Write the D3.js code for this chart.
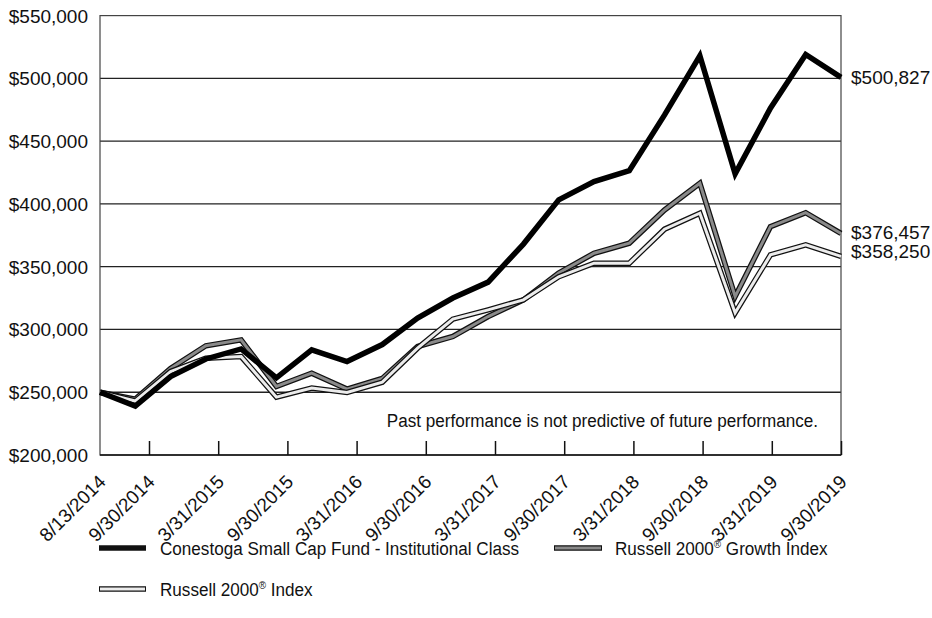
<!DOCTYPE html>
<html>
<head>
<meta charset="utf-8">
<script src="https://cdn.jsdelivr.net/npm/d3@7"></script>
<style>
body { margin: 0; background: #fff; }
</style>
</head>
<body>
<div id="chart"></div>
<script>
var dates = ["8/13/2014","9/30/2014","12/31/2014","3/31/2015","6/30/2015","9/30/2015","12/31/2015","3/31/2016",
    "6/30/2016","9/30/2016","12/31/2016","3/31/2017","6/30/2017","9/30/2017","12/31/2017","3/31/2018",
    "6/30/2018","9/30/2018","12/31/2018","3/31/2019","6/30/2019","9/30/2019"];
var conestoga = [250000, 239000, 262500, 276500, 284500, 261500, 283800, 274400, 288000, 309000, 325000,
    337700, 368000, 403200, 417800, 426500, 470900, 518000, 424000, 476200, 519000, 500827];
var growth = [250000, 244500, 269000, 287000, 291700, 254600, 265200, 252500, 261000, 286400, 294400,
    310300, 323600, 345000, 360700, 368700, 395200, 416500, 326200, 381900, 393000, 376457];
var russell = [250000, 243000, 266500, 277100, 278400, 246100, 253300, 249800, 258000, 285100, 308200,
    315600, 323600, 342000, 352800, 352800, 379900, 392600, 313200, 359400, 367400, 358250];
var tickLabels = ["9/30/2014","3/31/2015","9/30/2015","3/31/2016","9/30/2016","3/31/2017",
    "9/30/2017","3/31/2018","9/30/2018","3/31/2019","9/30/2019"];
var yTicks = [200000, 250000, 300000, 350000, 400000, 450000, 500000, 550000];
var endLabels = ["$500,827", "$376,457", "$358,250"];

var W = 932, H = 618;
var plot = {left: 100, right: 841, top: 15.6, bottom: 455};
var FONT = "'Liberation Sans', Arial, sans-serif";
var NARROW = 0.9; // no condensed font installed, squeeze Liberation Sans instead
var LINE_W = 5.5;
var INNER_W = 3;

var svg = d3.select("#chart").append("svg")
    .attr("width", W)
    .attr("height", H);

var x = d3.scalePoint().domain(dates).range([plot.left, plot.right]);
// the tick marks don't line up with the points in the original, keep them separate
var xt = d3.scalePoint().domain(tickLabels).range([149, plot.right]);
var y = d3.scaleLinear().domain([200000, 550000]).range([plot.bottom, plot.top]);
var fmt = d3.format("$,");

// gridlines
svg.append("g")
    .selectAll("line")
    .data(yTicks.slice(1, -1))
    .enter()
    .append("line")
    .attr("x1", plot.left)
    .attr("x2", plot.right)
    .attr("y1", d => y(d))
    .attr("y2", d => y(d))
    .attr("stroke", "#222")
    .attr("stroke-width", 1.3);

// frame
svg.append("rect")
    .attr("x", plot.left)
    .attr("y", plot.top)
    .attr("width", plot.right - plot.left)
    .attr("height", plot.bottom - plot.top)
    .attr("fill", "none")
    .attr("stroke", "#444")
    .attr("stroke-width", 1.2);

// y axis labels
svg.append("g")
    .selectAll("text")
    .data(yTicks)
    .enter()
    .append("text")
    .attr("x", 88)
    .attr("y", d => y(d) + 7)
    .attr("text-anchor", "end")
    .attr("font-family", FONT)
    .attr("font-size", 19)
    .attr("fill", "#111")
    .text(d => fmt(d));

// bottom axis
var xAxis = d3.axisBottom(xt).tickSize(-14).tickFormat("");
var gx = svg.append("g")
    .attr("transform", "translate(0," + plot.bottom + ")")
    .call(xAxis);
gx.select(".domain").attr("d", "M" + plot.left + ",0H" + plot.right).attr("stroke", "#111").attr("stroke-width", 1.5);
gx.selectAll(".tick line").attr("stroke", "#111").attr("stroke-width", 1.5);

var labelPos = [{t: dates[0], px: x(dates[0])}].concat(tickLabels.map(d => ({t: d, px: xt(d)})));
svg.append("g")
    .selectAll("text")
    .data(labelPos)
    .enter()
    .append("text")
    .attr("transform", d => "translate(" + (d.px + 7) + ",483) rotate(-45)")
    .attr("text-anchor", "end")
    .attr("font-family", FONT)
    .attr("font-size", 19)
    .attr("fill", "#111")
    .text(d => d.t);

// series lines
var line = d3.line()
    .x((d, i) => x(dates[i]))
    .y(d => y(d));

function doubleLine(values, inner) {
    svg.append("path")
        .attr("d", line(values))
        .attr("fill", "none")
        .attr("stroke", "#111")
        .attr("stroke-width", LINE_W);
    svg.append("path")
        .attr("d", line(values))
        .attr("fill", "none")
        .attr("stroke", inner)
        .attr("stroke-width", INNER_W);
}

doubleLine(growth, "#8a8a8a");
doubleLine(russell, "#ececec");

svg.append("path")
    .attr("d", line(conestoga))
    .attr("fill", "none")
    .attr("stroke", "#000")
    .attr("stroke-width", LINE_W);

// end value labels
var endY = [83.5, 238.5, 257.5];
svg.append("g")
    .selectAll("text")
    .data(endLabels)
    .enter()
    .append("text")
    .attr("x", 851)
    .attr("y", (d, i) => endY[i])
    .attr("font-family", FONT)
    .attr("font-size", 19)
    .attr("fill", "#111")
    .text(d => d);

svg.append("text")
    .attr("transform", "translate(818,427) scale(" + NARROW + ",1)")
    .attr("text-anchor", "end")
    .attr("font-family", FONT)
    .attr("font-size", 19)
    .attr("fill", "#111")
    .text("Past performance is not predictive of future performance.");

// legend
var legend = [
    {name: "Conestoga Small Cap Fund - Institutional Class", sup: "", rest: "", x: 99, len: 47, tx: 160, y: 548, inner: null},
    {name: "Russell 2000", sup: "®", rest: " Growth Index", x: 554, len: 48, tx: 615, y: 548, inner: "#8a8a8a"},
    {name: "Russell 2000", sup: "®", rest: " Index", x: 99, len: 47, tx: 160, y: 589, inner: "#ececec"}
];

legend.forEach(function(d) {
    svg.append("line")
        .attr("x1", d.x).attr("x2", d.x + d.len)
        .attr("y1", d.y).attr("y2", d.y)
        .attr("stroke", "#111")
        .attr("stroke-width", LINE_W);
    if (d.inner) {
        svg.append("line")
            .attr("x1", d.x + 1).attr("x2", d.x + d.len - 1)
            .attr("y1", d.y).attr("y2", d.y)
            .attr("stroke", d.inner)
            .attr("stroke-width", INNER_W);
    }
    var t = svg.append("text")
        .attr("transform", "translate(" + d.tx + "," + (d.y + 7) + ") scale(" + NARROW + ",1)")
        .attr("font-family", FONT)
        .attr("font-size", 19)
        .attr("fill", "#111");
    t.append("tspan").text(d.name);
    if (d.sup) {
        t.append("tspan").attr("font-size", 11).attr("dy", -7).text(d.sup);
        t.append("tspan").attr("dy", 7).text(d.rest);
    }
});
</script>
</body>
</html>
